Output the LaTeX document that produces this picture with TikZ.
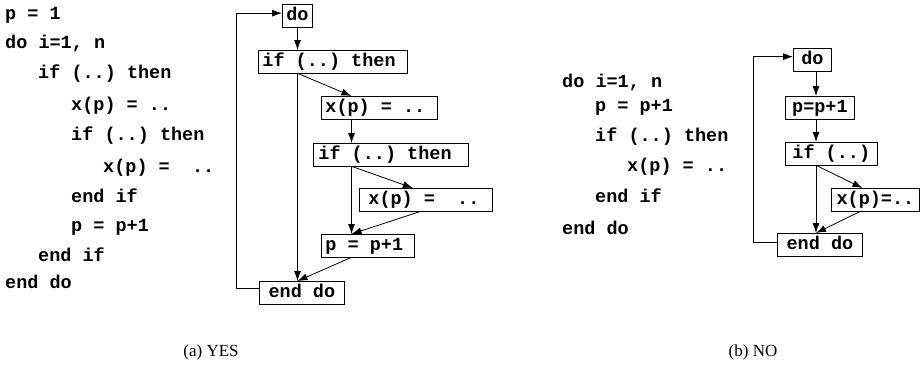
\documentclass[tikz,border=0pt]{standalone}
\usepackage{fontspec}
\setmainfont{Liberation Serif}
\newfontfamily\codefont{Liberation Mono}
\usetikzlibrary{arrows.meta}
\newcommand\lfix[2]{\makebox[#1][l]{#2}}
\begin{document}
\begin{tikzpicture}[x={(1pt,0pt)},y={(0pt,-1pt)},
  cf/.style={font=\codefont\bfseries\fontsize{18.5}{20}\selectfont\frenchspacing},
  boxbase/.style={cf, draw, line width=0.8pt, minimum height=22.5pt, inner ysep=0pt,
    text height=13pt, text depth=4pt, anchor=north west},
  cbox/.style={boxbase, inner xsep=0pt, minimum width=#1, align=center},
  lbox/.style={boxbase, inner xsep=#1},
  code/.style={cf, anchor=west, inner sep=0pt, text height=13pt, text depth=4pt},
  arr/.style={-{Latex[length=10pt,width=7pt]}, line width=0.8pt},
  captxt/.style={font=\fontsize{17}{20}\selectfont, anchor=base, inner sep=0pt}]
\useasboundingbox (0,0) rectangle (921,368);

% ---------- panel (a): code ----------
\node[code] (a1) at (5,15) {p = 1};
\node[code] (a2) at (5,44) {do i=1, n};
\node[code] (a3) at (38,74) {if (..) then};
\node[code] (a4) at (71,106) {x(p) = ..};
\node[code] (a5) at (71,136) {if (..) then};
\node[code] (a6) at (103,168) {x(p) =\ \ ..};
\node[code] (a7) at (71,198) {end if};
\node[code] (a8) at (71,227) {p = p+1};
\node[code] (a9) at (38,257) {end if};
\node[code] (a10) at (5,284) {end do};

% ---------- panel (a): flow graph ----------
\node[cbox=30] (ado) at (282,4) {do};
\node[lbox=4pt] (aif1) at (258,50) {\lfix{141pt}{if (..) then}};
\node[lbox=4pt] (axp1) at (321,96) {\lfix{108pt}{x(p) = ..}};
\node[lbox=5pt] (aif2) at (313,143) {\lfix{145pt}{if (..) then}};
\node[lbox=9pt] (axp2) at (359,188) {\lfix{115pt}{x(p) =\ \ ..}};
\node[lbox=4pt] (app) at (321,234) {\lfix{85pt}{p = p+1}};
\node[cbox=85] (aend) at (259,281) {end do};

\coordinate (colA) at (297.5,0);
\coordinate (colB) at (351.5,0);
\coordinate (loopA) at (236,0);
\coordinate (aendw) at ([yshift=4.5pt]aend.west);
\coordinate (adow) at ([yshift=2.5pt]ado.west);

\draw[arr] (ado.south -| colA) -- (aif1.north -| colA);
\draw[arr] (aif1.south -| colA) -- (aend.north -| colA);
\draw[arr] (aif1.south -| colA) -- ([xshift=-28pt]axp1.north);
\draw[arr] (axp1.south -| colB) -- (aif2.north -| colB);
\draw[arr] (aif2.south -| colB) -- (app.north -| colB);
\draw[arr] (aif2.south -| colB) -- ([xshift=-13pt]axp2.north);
\draw[arr] ([xshift=-5pt]axp2.south) -- (app.north -| colB);
\draw[arr] (app.south -| colB) -- (aend.north -| colA);
\draw[arr] (aendw) -- (aendw -| loopA) |- (adow);

% ---------- panel (b): code ----------
\node[code] (b1) at (562,83) {do i=1, n};
\node[code] (b2) at (595,107) {p = p+1};
\node[code] (b3) at (595,137) {if (..) then};
\node[code] (b4) at (627,167) {x(p) = ..};
\node[code] (b5) at (595,198) {end if};
\node[code] (b6) at (562,230) {end do};

% ---------- panel (b): flow graph ----------
\node[cbox=38] (bdo) at (793,48) {do};
\node[cbox=69] (bpp) at (785,96) {p=p+1};
\node[lbox=7pt] (bif) at (785,142) {\lfix{78pt}{if (..)}};
\node[cbox=88] (bxp) at (831,188) {x(p)=..};
\node[cbox=85] (bend) at (777,233) {end do};

\coordinate (colC) at (816,0);
\coordinate (loopB) at (753,0);
\coordinate (bendw) at ([yshift=2.5pt]bend.west);
\coordinate (bdow) at ([yshift=3pt]bdo.west);

\draw[arr] (bdo.south -| colC) -- (bpp.north -| colC);
\draw[arr] (bpp.south -| colC) -- (bif.north -| colC);
\draw[arr] (bif.south -| colC) -- (bend.north -| colC);
\draw[arr] (bif.south -| colC) -- ([xshift=-13pt]bxp.north);
\draw[arr] ([xshift=-15pt]bxp.south) -- (bend.north -| colC);
\draw[arr] (bendw) -- (bendw -| loopB) |- (bdow);

% ---------- captions ----------
\node[captxt] (capa) at (211,356) {(a) YES};
\node[captxt] (capb) at (753,356) {(b) NO};
\end{tikzpicture}
\end{document}
